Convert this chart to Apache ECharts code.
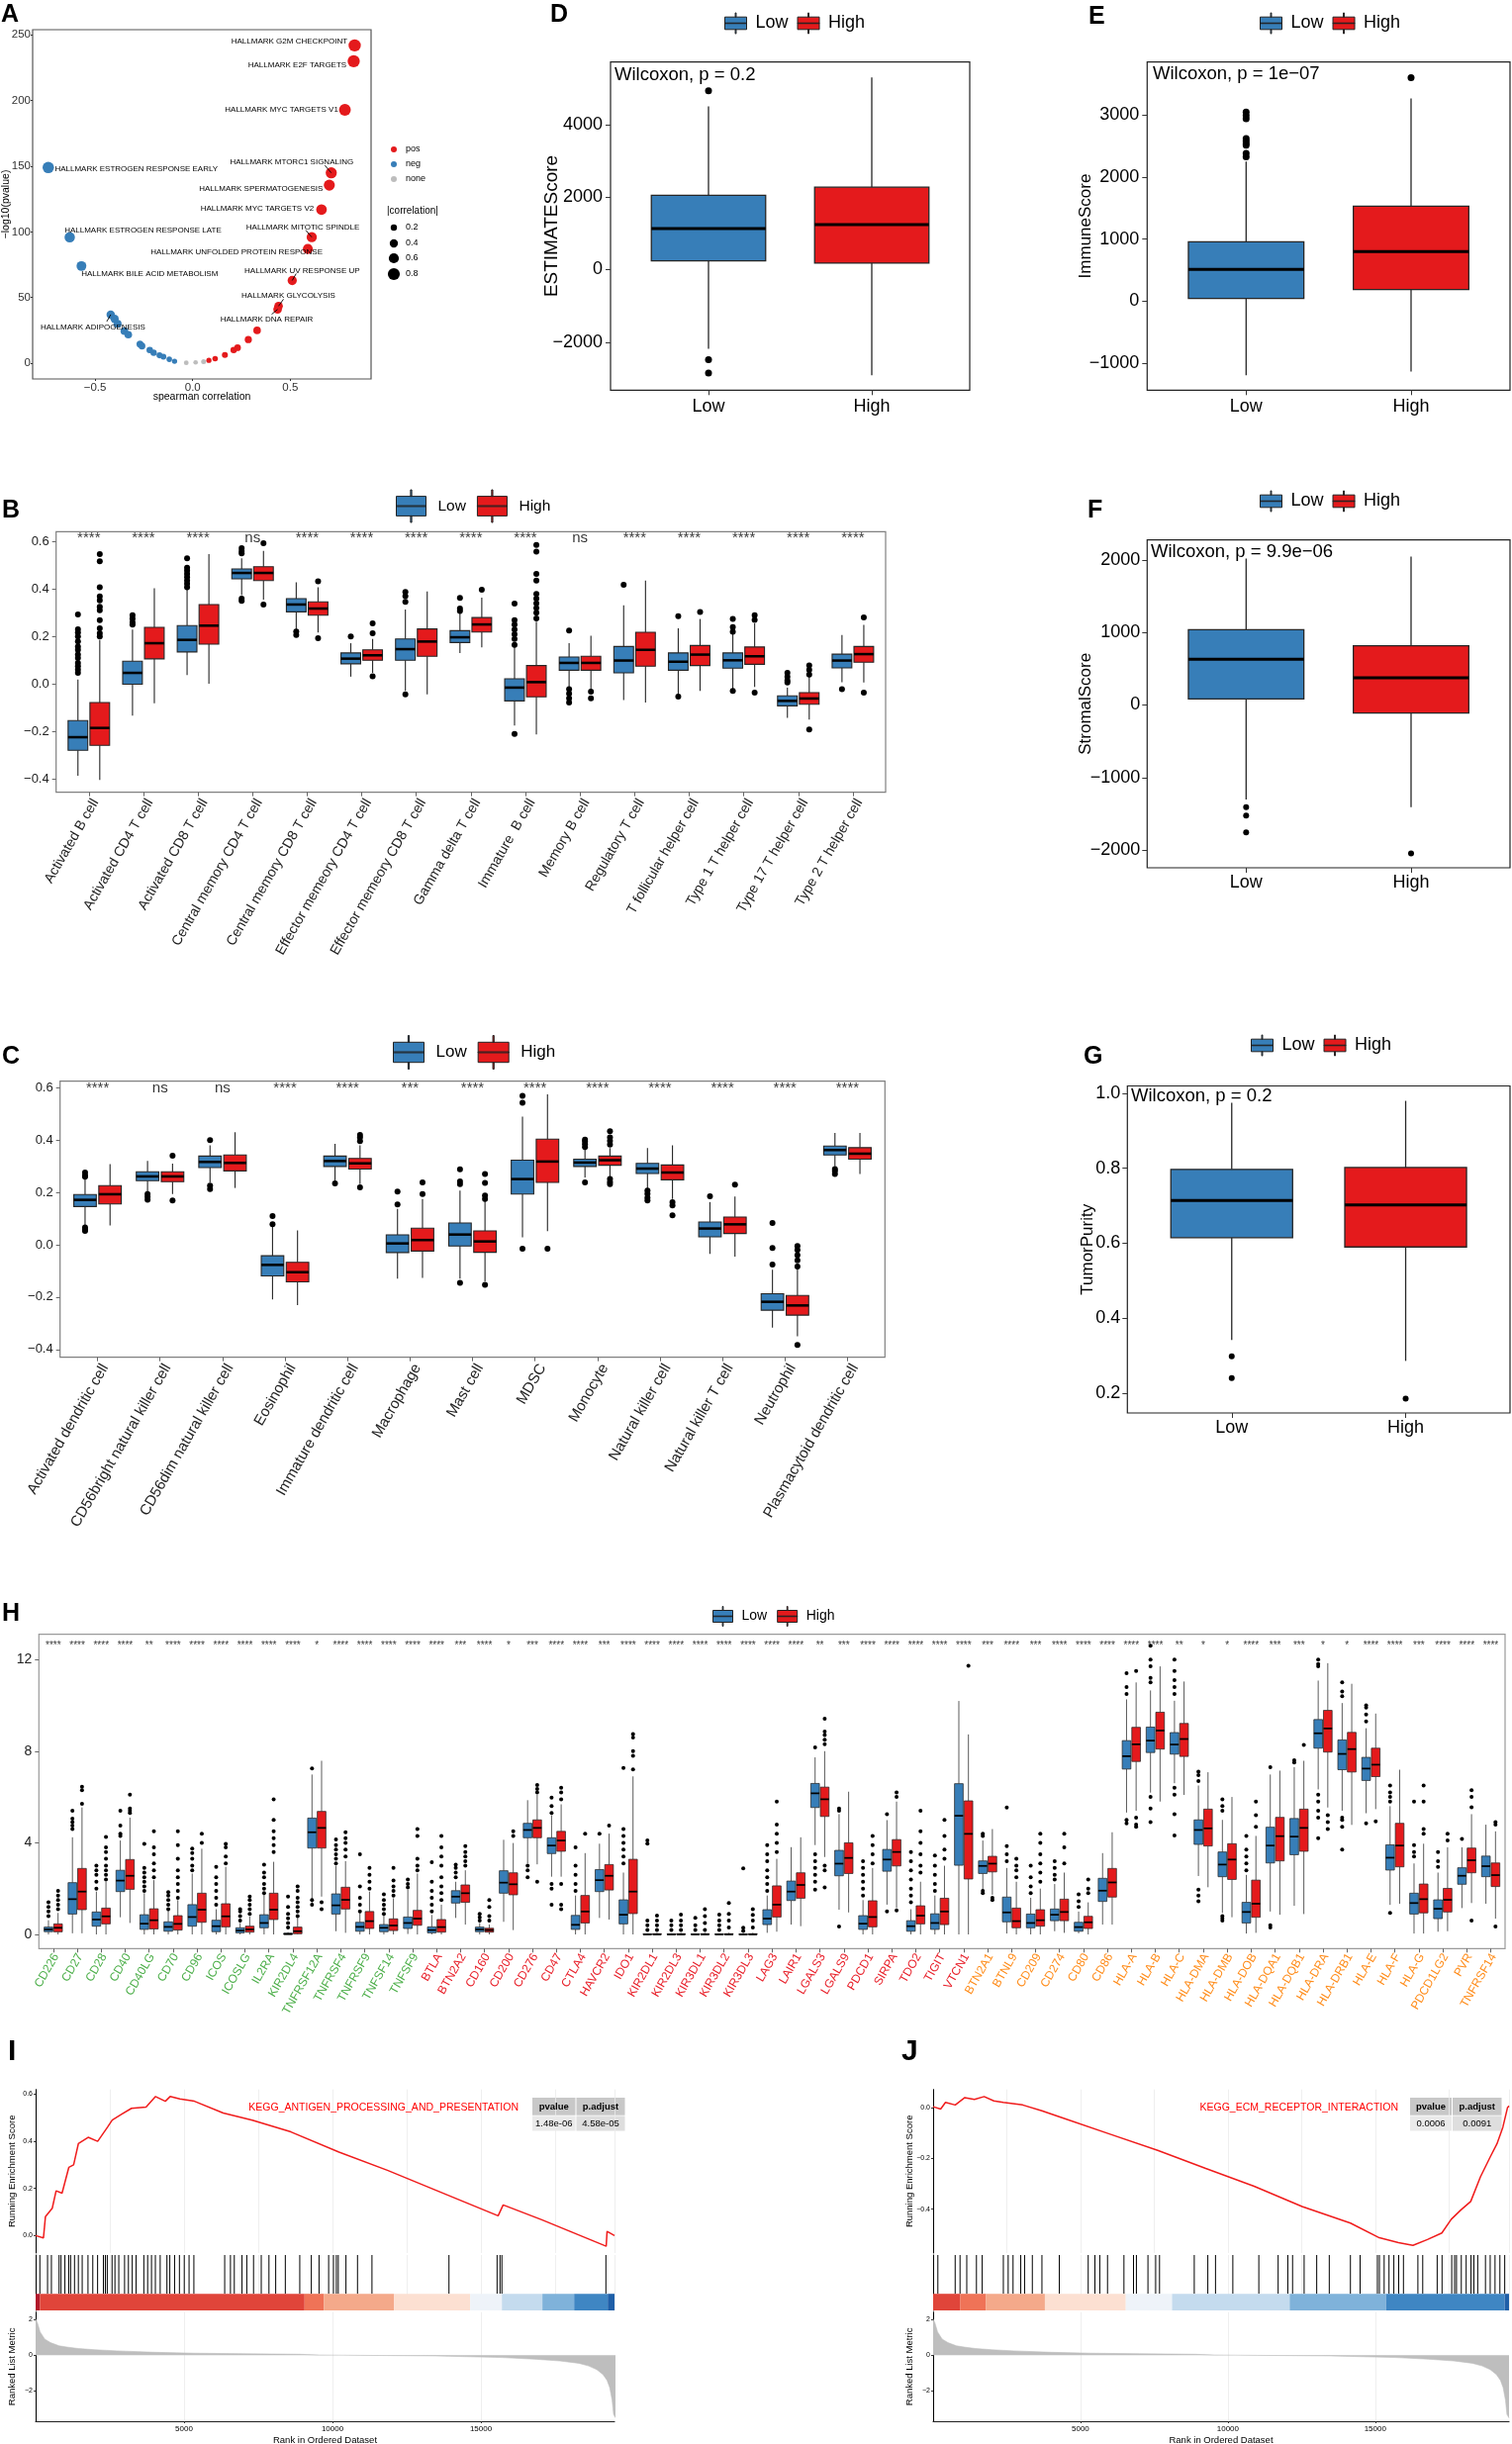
<!DOCTYPE html>
<html>
<head>
<meta charset="utf-8">
<script src="https://cdn.jsdelivr.net/npm/echarts@6/dist/echarts.min.js"></script>
<style>
  html, body { margin: 0; padding: 0; background: #fff; }
  #main { width: 1528px; height: 2470px; }
</style>
</head>
<body>
<div id="main"></div>
<script>
var BLUE = '#377EB8', RED = '#E41A1C', FONT = '"Liberation Sans", Arial, sans-serif';

// ---------- A: hallmark correlation volcano ----------
var aPos = [
  [0.83, 242, 'HALLMARK G2M CHECKPOINT'],
  [0.825, 230, 'HALLMARK E2F TARGETS'],
  [0.78, 193, 'HALLMARK MYC TARGETS V1'],
  [0.71, 145, 'HALLMARK MTORC1 SIGNALING'],
  [0.70, 135.6, 'HALLMARK SPERMATOGENESIS'],
  [0.66, 117, 'HALLMARK MYC TARGETS V2'],
  [0.61, 96, 'HALLMARK MITOTIC SPINDLE'],
  [0.59, 87, 'HALLMARK UNFOLDED PROTEIN RESPONSE'],
  [0.51, 63, 'HALLMARK UV RESPONSE UP'],
  [0.44, 43.5, 'HALLMARK GLYCOLYSIS'],
  [0.435, 41, 'HALLMARK DNA REPAIR'],
  [0.33, 25, ''], [0.285, 18, ''], [0.23, 11.8, ''], [0.21, 10, ''],
  [0.165, 6.3, ''], [0.115, 3.5, ''], [0.083, 2.2, '']
];
var aNeg = [
  [-0.74, 149, 'HALLMARK ESTROGEN RESPONSE EARLY'],
  [-0.63, 96, 'HALLMARK ESTROGEN RESPONSE LATE'],
  [-0.57, 74, 'HALLMARK BILE ACID METABOLISM'],
  [-0.42, 37, 'HALLMARK ADIPOGENESIS'],
  [-0.40, 33.8, ''], [-0.385, 30, ''], [-0.35, 24.5, ''], [-0.33, 21.7, ''],
  [-0.27, 14.5, ''], [-0.26, 13, ''], [-0.22, 10, ''], [-0.20, 8, ''],
  [-0.17, 6, ''], [-0.15, 5, ''], [-0.12, 3, ''], [-0.093, 1.5, '']
];
var aNone = [[-0.033, 0.3, ''], [0.015, 0.6, ''], [0.056, 1.2, '']];
var aSizeKeys = [0.2, 0.4, 0.6, 0.8];

// label placement for the named points (pixel shift of text centre from the point)
var aLabelShift = {
  'HALLMARK G2M CHECKPOINT': [-66, -4],
  'HALLMARK E2F TARGETS': [-57, 4],
  'HALLMARK MYC TARGETS V1': [-64, 0],
  'HALLMARK MTORC1 SIGNALING': [-40, -11],
  'HALLMARK SPERMATOGENESIS': [-69, 4],
  'HALLMARK MYC TARGETS V2': [-65, -1],
  'HALLMARK MITOTIC SPINDLE': [-9, -10],
  'HALLMARK UNFOLDED PROTEIN RESPONSE': [-72, 3],
  'HALLMARK UV RESPONSE UP': [10, -10],
  'HALLMARK GLYCOLYSIS': [10, -11],
  'HALLMARK DNA REPAIR': [-11, 10],
  'HALLMARK ESTROGEN RESPONSE EARLY': [89, 1],
  'HALLMARK ESTROGEN RESPONSE LATE': [74, -7],
  'HALLMARK BILE ACID METABOLISM': [69, 8],
  'HALLMARK ADIPOGENESIS': [-18, 13]
};
// short leader segments (pixel vector from the point towards its label)
var aLeader = {
  'HALLMARK MTORC1 SIGNALING': [-6.5, -7.5],
  'HALLMARK MITOTIC SPINDLE': [-6, -7],
  'HALLMARK UV RESPONSE UP': [4, -7],
  'HALLMARK GLYCOLYSIS': [5, -7],
  'HALLMARK DNA REPAIR': [-6, 5],
  'HALLMARK ADIPOGENESIS': [-4, 7]
};

// ---------- D/E/F/G: ESTIMATE scores (min, Q1, median, Q3, max) ----------
var groups = ['Low', 'High'];
var dLow = [-2183, 245, 1135, 2046, 4502], dHigh = [-2911, 180, 1244, 2273, 5294];
var dLowOut = [4928, -2483, -2848], dHighOut = [];
var eLow = [-1196, 42, 510, 956, 2248], eHigh = [-1137, 186, 797, 1530, 3268];
var eLowOut = [3045, 2990, 2938, 2620, 2580, 2540, 2513, 2380, 2327], eHighOut = [3603];
var fLow = [-1304, 85, 631, 1040, 2020], fHigh = [-1407, -111, 375, 818, 2046];
var fLowOut = [-1407, -1526, -1756], fHighOut = [-2046];
var gLow = [0.342, 0.615, 0.714, 0.797, 0.975], gHigh = [0.286, 0.59, 0.702, 0.802, 0.98];
var gLowOut = [0.298, 0.24], gHighOut = [0.185];

// ---------- B: immune cell ssGSEA (part 1) ----------
var bCells = ['Activated B cell', 'Activated CD4 T cell', 'Activated CD8 T cell', 'Central memory CD4 T cell',
  'Central memory CD8 T cell', 'Effector memeory CD4 T cell', 'Effector memeory CD8 T cell', 'Gamma delta T cell',
  'Immature  B cell', 'Memory B cell', 'Regulatory T cell', 'T follicular helper cell', 'Type 1 T helper cell',
  'Type 17 T helper cell', 'Type 2 T helper cell'];
var bSig = ['****', '****', '****', 'ns', '****', '****', '****', '****', '****', 'ns', '****', '****', '****', '****', '****'];
var bLow = [
  [-0.386, -0.279, -0.224, -0.154, 0.019], [-0.133, -0.001, 0.047, 0.096, 0.23], [0.0375, 0.135, 0.186, 0.246, 0.40],
  [0.374, 0.443, 0.468, 0.485, 0.53], [0.228, 0.304, 0.335, 0.36, 0.429], [0.031, 0.085, 0.107, 0.131, 0.172],
  [-0.029, 0.1, 0.147, 0.19, 0.314], [0.131, 0.175, 0.197, 0.225, 0.297], [-0.175, -0.071, -0.015, 0.022, 0.158],
  [-0.015, 0.058, 0.089, 0.114, 0.172], [-0.068, 0.047, 0.099, 0.158, 0.332], [-0.043, 0.058, 0.094, 0.131, 0.235],
  [-0.022, 0.067, 0.1, 0.131, 0.214], [-0.143, -0.092, -0.071, -0.05, -0.015], [0.008, 0.068, 0.099, 0.126, 0.207]
];
var bHigh = [
  [-0.404, -0.258, -0.185, -0.078, 0.186], [-0.081, 0.106, 0.172, 0.239, 0.404], [0.001, 0.168, 0.246, 0.335, 0.547],
  [0.356, 0.436, 0.468, 0.494, 0.561], [0.217, 0.29, 0.318, 0.346, 0.408], [0.047, 0.1, 0.121, 0.144, 0.19],
  [-0.043, 0.117, 0.179, 0.232, 0.39], [0.154, 0.219, 0.251, 0.28, 0.364], [-0.2125, -0.054, 0.008, 0.078, 0.2625],
  [-0.022, 0.058, 0.089, 0.117, 0.203], [-0.078, 0.075, 0.144, 0.218, 0.436], [-0.029, 0.078, 0.124, 0.1625, 0.274],
  [-0.0125, 0.083, 0.117, 0.156, 0.256], [-0.15, -0.085, -0.061, -0.036, 0.033], [0.006, 0.092, 0.126, 0.158, 0.249]
];
var bLowOut = [
  [0.293, 0.231, 0.217, 0.2, 0.179, 0.158, 0.144, 0.124, 0.11, 0.089, 0.075, 0.061, 0.047],
  [0.29, 0.275, 0.26, 0.25], [0.53, 0.49, 0.478, 0.464, 0.45, 0.436, 0.422, 0.408],
  [0.572, 0.56, 0.55, 0.36, 0.35], [0.221, 0.207], [0.2], [0.388, 0.37, 0.346, -0.043],
  [0.363, 0.318, 0.308], [0.339, 0.269, 0.25, 0.23, 0.21, 0.19, 0.165, -0.21],
  [0.225, -0.022, -0.04, -0.06, -0.078], [0.418], [0.286, -0.053], [0.274, 0.24, 0.22, -0.029],
  [0.047, 0.03, 0.015, 0.006], [-0.022]
];
var bHighOut = [
  [0.547, 0.517, 0.408, 0.369, 0.353, 0.325, 0.311, 0.269, 0.235, 0.214, 0.2], [], [],
  [0.593, 0.335], [0.433, 0.193], [0.256, 0.214, 0.033], [], [0.397],
  [0.586, 0.558, 0.464, 0.436, 0.38, 0.36, 0.34, 0.32, 0.3, 0.276], [-0.032, -0.06], [], [0.304],
  [0.29, 0.27, -0.036], [0.078, 0.06, 0.04, -0.192], [0.281, -0.036]
];

// ---------- C: immune cell ssGSEA (part 2) ----------
var cCells = ['Activated dendritic cell', 'CD56bright natural killer cell', 'CD56dim natural killer cell', 'Eosinophil',
  'Immature dendritic cell', 'Macrophage', 'Mast cell', 'MDSC', 'Monocyte', 'Natural killer cell',
  'Natural killer T cell', 'Neutrophil', 'Plasmacytoid dendritic cell'];
var cSig = ['****', 'ns', 'ns', '****', '****', '***', '****', '****', '****', '****', '****', '****', '****'];
var cLow = [
  [0.074, 0.146, 0.1715, 0.192, 0.251], [0.204, 0.245, 0.261, 0.279, 0.32], [0.238, 0.295, 0.3165, 0.339, 0.38],
  [-0.209, -0.119, -0.077, -0.042, 0.068], [0.245, 0.299, 0.32, 0.339, 0.386], [-0.13, -0.03, 0.005, 0.038, 0.137],
  [-0.13, -0.005, 0.039, 0.083, 0.207], [0.028, 0.194, 0.251, 0.323, 0.49], [0.257, 0.299, 0.314, 0.327, 0.37],
  [0.213, 0.272, 0.291, 0.311, 0.37], [-0.035, 0.03, 0.062, 0.087, 0.163], [-0.317, -0.25, -0.218, -0.187, -0.096],
  [0.3, 0.343, 0.362, 0.377, 0.4275]
];
var cHigh = [
  [0.074, 0.156, 0.193, 0.226, 0.308], [0.194, 0.241, 0.261, 0.279, 0.31], [0.217, 0.282, 0.3127, 0.343, 0.43],
  [-0.231, -0.142, -0.105, -0.067, 0.055], [0.232, 0.289, 0.311, 0.33, 0.38], [-0.127, -0.024, 0.018, 0.063, 0.175],
  [-0.14, -0.029, 0.0126, 0.053, 0.17], [0.052, 0.238, 0.318, 0.4035, 0.575], [0.26, 0.304, 0.323, 0.339, 0.37],
  [0.175, 0.248, 0.276, 0.305, 0.38], [-0.045, 0.043, 0.078, 0.106, 0.184], [-0.35, -0.269, -0.232, -0.194, -0.09],
  [0.27, 0.327, 0.348, 0.371, 0.4275]
];
var cLowOut = [
  [0.276, 0.265, 0.26, 0.066, 0.058, 0.053], [0.194, 0.183, 0.172], [0.4, 0.226, 0.213], [0.11, 0.078],
  [0.2345], [0.203, 0.154], [0.288, 0.242, 0.232, -0.146], [0.569, 0.543, -0.015],
  [0.402, 0.395, 0.385, 0.373, 0.238], [0.207, 0.195, 0.18, 0.169], [0.185], [0.083, -0.0126, -0.076],
  [0.289, 0.282, 0.27]
];
var cHighOut = [
  [], [0.34, 0.169], [], [], [0.42, 0.41, 0.396, 0.219], [0.238, 0.194], [0.27, 0.236, 0.188, 0.175, -0.153],
  [-0.015], [0.434, 0.41, 0.397, 0.383, 0.251, 0.24, 0.232], [0.163, 0.15, 0.112], [0.23],
  [-0.005, -0.02, -0.04, -0.06, -0.083, -0.383], []
];

// ---------- H: immune checkpoint genes ----------
var hGreen = ['CD226', 'CD27', 'CD28', 'CD40', 'CD40LG', 'CD70', 'CD96', 'ICOS', 'ICOSLG', 'IL2RA', 'KIR2DL4',
  'TNFRSF12A', 'TNFRSF4', 'TNFRSF9', 'TNFSF14', 'TNFSF9'];
var hRed = ['BTLA', 'BTN2A2', 'CD160', 'CD200', 'CD276', 'CD47', 'CTLA4', 'HAVCR2', 'IDO1', 'KIR2DL1', 'KIR2DL3',
  'KIR3DL1', 'KIR3DL2', 'KIR3DL3', 'LAG3', 'LAIR1', 'LGALS3', 'LGALS9', 'PDCD1', 'SIRPA', 'TDO2', 'TIGIT', 'VTCN1'];
var hOrange = ['BTN2A1', 'BTNL9', 'CD209', 'CD274', 'CD80', 'CD86', 'HLA-A', 'HLA-B', 'HLA-C', 'HLA-DMA', 'HLA-DMB',
  'HLA-DOB', 'HLA-DQA1', 'HLA-DQB1', 'HLA-DRA', 'HLA-DRB1', 'HLA-E', 'HLA-F', 'HLA-G', 'PDCD1LG2', 'PVR', 'TNFRSF14'];
var hGenes = hGreen.concat(hRed, hOrange);
var hSig = ['****', '****', '****', '****', '**', '****', '****', '****', '****', '****', '****', '*', '****', '****', '****', '****',
  '****', '***', '****', '*', '***', '****', '****', '***', '****', '****', '****', '****', '****', '****', '****', '****', '**', '***',
  '****', '****', '****', '****', '****',
  '***', '****', '***', '****', '****', '****', '****', '****', '**', '*', '*', '****', '***', '***', '*', '*', '****', '****', '***',
  '****', '****', '****'];
var hLow = [
  [0, 0.12, 0.22, 0.32, 0.62], [0.05, 0.89, 1.54, 2.26, 4.24], [0, 0.36, 0.65, 0.98, 1.87], [0.75, 1.87, 2.35, 2.8, 4.1],
  [0, 0.22, 0.47, 0.86, 1.8], [0, 0.14, 0.33, 0.55, 1.08], [0, 0.36, 0.76, 1.3, 2.66], [0, 0.12, 0.36, 0.62, 1.1],
  [0, 0.07, 0.17, 0.29, 0.5], [0, 0.29, 0.5, 0.86, 1.73], [0, 0, 0.02, 0.05, 0.1], [1.37, 3.77, 4.46, 5.08, 6.98],
  [0.14, 0.89, 1.27, 1.77, 3.0], [0, 0.14, 0.33, 0.53, 0.94], [0, 0.12, 0.29, 0.43, 0.86], [0.02, 0.26, 0.5, 0.76, 1.95],
  [0, 0.07, 0.19, 0.33, 0.85], [0.72, 1.37, 1.65, 1.91, 2.3], [0, 0.12, 0.22, 0.32, 0.5], [0.55, 1.8, 2.26, 2.78, 4.13],
  [3.1, 4.22, 4.56, 4.85, 5.86], [2.52, 3.53, 3.88, 4.22, 5.2], [0, 0.22, 0.42, 0.83, 1.7], [0.72, 1.87, 2.37, 2.83, 3.96],
  [0, 0.46, 0.86, 1.51, 2.7], [0, 0, 0, 0.02, 0.05], [0, 0, 0, 0.02, 0.05], [0, 0, 0, 0.02, 0.05],
  [0, 0, 0, 0.02, 0.05], [0, 0, 0, 0.01, 0.03], [0.07, 0.43, 0.69, 1.08, 1.7], [0.43, 1.48, 1.87, 2.33, 3.81],
  [3.9, 5.54, 6.16, 6.59, 7.73], [1.08, 2.56, 3.09, 3.67, 5.25], [0, 0.22, 0.47, 0.82, 1.5], [1.3, 2.76, 3.27, 3.71, 4.99],
  [0, 0.14, 0.36, 0.6, 1.1], [0, 0.22, 0.5, 0.9, 1.7], [0, 3.02, 5.18, 6.58, 10.19],
  [1.94, 2.66, 2.99, 3.21, 4.1], [0.04, 0.55, 0.96, 1.63, 2.9], [0, 0.29, 0.5, 0.89, 1.6], [0.14, 0.6, 0.86, 1.11, 2.2],
  [0.05, 0.14, 0.32, 0.53, 1.0], [0.43, 1.44, 1.91, 2.45, 3.55], [5.32, 7.22, 7.78, 8.46, 10.26], [6.19, 7.94, 8.46, 9.05, 10.65],
  [6.6, 7.87, 8.29, 8.81, 10.2], [2.55, 3.93, 4.56, 5.0, 6.5], [0.94, 2.52, 3.05, 3.6, 5.0], [0.04, 0.5, 0.98, 1.4, 2.6],
  [1.0, 3.12, 3.88, 4.68, 6.98], [1.25, 3.48, 4.27, 5.06, 7.3], [6.33, 8.13, 8.78, 9.38, 11.08], [5.4, 7.19, 7.88, 8.49, 10.1],
  [5.29, 6.72, 7.24, 7.73, 9.0], [1.29, 2.81, 3.35, 3.91, 5.6], [0.04, 0.89, 1.37, 1.8, 3.1], [0.12, 0.69, 1.12, 1.51, 2.7],
  [1.15, 2.19, 2.56, 2.91, 3.8], [1.34, 2.52, 2.98, 3.42, 4.79]
];
var hHigh = [
  [0, 0.115, 0.29, 0.46, 0.94], [0.05, 1.08, 1.87, 2.88, 5.54], [0, 0.46, 0.79, 1.15, 2.3], [0.5, 1.97, 2.56, 3.27, 5.1],
  [0, 0.24, 0.62, 1.12, 2.37], [0, 0.19, 0.46, 0.82, 1.5], [0, 0.53, 1.08, 1.8, 3.74], [0, 0.33, 0.79, 1.34, 2.95],
  [0, 0.1, 0.22, 0.36, 0.79], [0, 0.65, 1.08, 1.8, 3.17], [0, 0.03, 0.14, 0.32, 0.72], [1.65, 3.77, 4.65, 5.37, 7.58],
  [0.07, 1.11, 1.51, 2.06, 3.2], [0, 0.26, 0.58, 1.0, 1.87], [0, 0.17, 0.39, 0.68, 1.58], [0, 0.4, 0.69, 1.05, 2.66],
  [0, 0.1, 0.32, 0.65, 1.3], [0.43, 1.4, 1.8, 2.16, 2.8], [0, 0.1, 0.19, 0.27, 0.43], [0.19, 1.73, 2.19, 2.69, 3.99],
  [3.06, 4.22, 4.65, 5.0, 6.1], [2.52, 3.63, 4.1, 4.5, 5.68], [0, 0.5, 1.0, 1.7, 3.55], [0.65, 1.94, 2.56, 3.05, 4.4],
  [0, 0.91, 1.87, 3.28, 6.9], [0, 0, 0, 0.03, 0.07], [0, 0, 0, 0.03, 0.07], [0, 0, 0, 0.03, 0.07],
  [0, 0, 0, 0.03, 0.07], [0, 0, 0, 0.03, 0.07], [0.12, 0.76, 1.3, 2.12, 3.3], [0.36, 1.58, 2.16, 2.69, 4.24],
  [3.38, 5.15, 5.9, 6.43, 8.0], [0.96, 2.66, 3.34, 4.0, 6.23], [0, 0.33, 0.76, 1.47, 2.9], [1.15, 2.99, 3.6, 4.14, 5.8],
  [0, 0.46, 0.82, 1.25, 2.3], [0, 0.43, 1.0, 1.58, 3.0], [0, 2.42, 4.39, 5.83, 8.73],
  [1.73, 2.73, 3.09, 3.41, 4.6], [0, 0.29, 0.58, 1.15, 2.3], [0, 0.36, 0.62, 1.08, 2.0], [0.07, 0.6, 0.98, 1.54, 2.7],
  [0, 0.26, 0.53, 0.79, 1.4], [0.43, 1.63, 2.27, 2.88, 4.46], [5.4, 7.55, 8.3, 9.04, 11.0], [5.8, 8.09, 8.9, 9.7, 11.7],
  [6.09, 7.77, 8.53, 9.21, 11.04], [2.06, 3.86, 4.63, 5.47, 7.08], [0.75, 2.4, 3.27, 3.96, 6.0], [0.07, 0.75, 1.34, 2.37, 4.3],
  [0.86, 3.21, 4.29, 5.11, 7.15], [0.89, 3.63, 4.65, 5.47, 7.58], [5.54, 7.96, 8.99, 9.78, 11.84], [4.78, 7.09, 8.09, 8.82, 10.94],
  [5.47, 6.89, 7.41, 8.13, 9.64], [1.34, 2.95, 3.88, 4.85, 7.19], [0.04, 0.94, 1.54, 2.2, 3.96], [0.14, 0.98, 1.51, 2.01, 3.8],
  [1.37, 2.69, 3.24, 3.77, 5.25], [0.69, 2.09, 2.59, 3.12, 4.5]
];
var hLowOut = [
  [0.8, 1.0, 1.2, 1.4], [4.6, 4.75, 4.9, 5.05, 5.4], [2.0, 2.3, 2.6, 2.8, 3.0], [4.3, 4.4, 4.75, 5.4],
  [1.9, 2.1, 2.3, 2.5, 2.7, 2.9, 3.95], [1.1, 1.3, 1.5, 1.7, 1.85], [2.8, 3.0, 3.3, 3.55, 3.75], [1.3, 1.6, 1.9, 2.2, 2.5, 2.95],
  [0.6, 0.8, 1.0, 1.1], [1.8, 2.0, 2.2, 2.5, 2.7, 3.05], [0.3, 0.5, 0.7, 0.9, 1.2, 1.65], [7.25, 1.3, 1.5],
  [3.1, 3.3, 3.5, 3.7, 3.9, 4.15], [1.0, 1.3, 1.6, 2.1, 3.5], [0.9, 1.1, 1.3, 1.5, 1.75], [2.05, 2.2, 2.4],
  [1.0, 1.3, 1.6, 1.9, 2.3, 3.15], [2.5, 2.7, 2.9, 3.05], [0.6, 0.75, 0.9], [],
  [3.0, 2.8, 2.5], [5.3, 5.6, 5.97, 2.0, 2.2, 1.3], [1.9, 2.2, 2.6, 3.0, 3.8], [4.39],
  [3.1, 3.4, 3.7, 4.0, 4.3, 4.6, 7.27], [0.2, 0.4, 0.6, 3.96, 4.1], [0.2, 0.4, 0.6], [0.2, 0.4, 0.72],
  [0.2, 0.4, 0.6, 0.86], [0.15, 0.29, 2.88], [1.9, 2.2, 2.5, 2.8, 3.2, 3.5, 3.9], [],
  [8.16, 3.5, 3.2, 2.9, 2.6, 2.3, 1.95], [5.4, 5.5, 0.35], [1.7, 2.0, 2.3, 2.6, 2.9, 3.2], [5.25, 1.0],
  [1.4, 1.7, 2.0, 2.4, 2.8, 3.2, 3.6], [1.9, 2.2, 2.6, 3.0, 3.45], [],
  [4.3, 4.4, 1.8, 1.9], [3.2, 3.5, 3.85, 5.54], [1.8, 2.1, 2.5, 3.0], [2.4, 2.6, 2.9, 3.2],
  [1.2, 1.45, 1.75], [], [10.5, 10.8, 11.4, 5.0, 4.85], [11.0, 11.2, 11.7, 12.0, 12.6, 6.0, 5.5, 4.9],
  [10.5, 10.8, 11.1, 11.5, 12.0, 6.4, 6.1, 5.25, 4.32], [6.7, 6.95, 7.1, 1.95, 1.7, 1.45], [5.4, 5.6, 5.9, 0.8, 0.7, 0.6], [2.8, 3.1, 3.4, 3.7, 4.3],
  [7.3, 0.4, 0.3], [7.5, 7.6], [11.7, 11.8, 12.0, 6.1, 5.8, 5.4, 5.1, 4.2], [10.4, 10.6, 11.0, 5.1, 5.0, 4.7, 3.7],
  [9.3, 9.6, 9.9, 10.0, 4.85], [5.8, 6.0, 6.2, 6.5, 0.94], [3.4, 3.6, 3.9, 5.8], [2.95, 3.2, 3.6],
  [4.17], []
];
var hHighOut = [
  [1.1, 1.3, 1.5, 1.7, 1.9], [5.7, 6.3, 6.45], [2.4, 2.6, 2.8, 3.0, 3.3, 3.6, 3.8, 4.25], [5.3, 5.4, 5.5, 6.1],
  [2.5, 2.8, 3.1, 3.5, 3.8, 4.5], [1.6, 1.9, 2.2, 2.5, 2.8, 3.3, 3.9, 4.5], [4.0, 4.4], [3.1, 3.4, 3.8, 3.95],
  [0.9, 1.1, 1.3, 1.5, 1.65], [3.6, 3.9, 4.2, 4.5, 5.0, 5.9], [0.8, 1.0, 1.2, 1.4, 1.6, 1.9, 2.1], [1.1, 1.4],
  [3.4, 3.7, 4.0, 4.2, 4.46], [2.0, 2.3, 2.6, 2.9], [1.7, 1.9, 2.1, 2.35, 2.9], [2.8, 3.0, 3.3, 4.3, 4.6],
  [1.5, 1.8, 2.1, 2.5, 3.0, 3.4, 3.8, 4.3], [3.0, 3.2, 3.4, 3.6, 3.85], [0.6, 0.8, 1.2, 1.5], [4.3, 4.5],
  [6.2, 6.35, 6.52, 2.3], [5.9, 6.2, 6.4, 2.2, 1.3, 1.1], [4.4], [4.75],
  [7.2, 7.8, 8.0, 8.6, 8.75], [0.2, 0.4, 0.6, 0.82], [0.2, 0.4, 0.6, 0.86], [0.2, 0.5, 0.8, 1.1],
  [0.3, 0.6, 0.9, 1.37], [0.3, 0.6, 0.85, 1.1], [3.6, 4.0, 4.4, 4.8, 5.8], [],
  [8.3, 8.5, 8.7, 8.85, 9.42, 3.0, 2.8, 2.05], [], [3.1, 3.5, 3.9, 4.3], [6.0, 6.2, 1.05],
  [2.7, 3.0, 3.5, 4.0, 4.5, 5.4], [3.3, 3.7, 4.3, 5.0], [11.73],
  [1.6, 1.5], [2.5, 2.8, 3.0, 3.3], [2.3, 2.7, 3.1, 3.5, 4.0, 4.4], [3.1, 3.8, 4.4],
  [1.8, 2.0, 2.4], [], [11.5, 5.1, 4.8, 4.7], [],
  [], [], [], [4.7, 5.2, 5.8],
  [], [8.27], [5.2, 4.9, 4.6], [],
  [4.94], [], [4.4, 4.6, 5.8, 6.5], [4.1, 4.4],
  [5.55, 6.0, 6.3, 0.6], [4.8, 4.9, 0.35]
];

// ---------- I/J: GSEA ----------
var iCurve = [[0, 0], [264, -0.01], [330, 0.08], [560, 0.116], [690, 0.19], [890, 0.18], [1120, 0.29], [1280, 0.3],
  [1440, 0.39], [1770, 0.417], [2090, 0.4], [2420, 0.46], [2580, 0.49], [2900, 0.515], [3230, 0.54], [3720, 0.545],
  [4040, 0.59], [4370, 0.57], [4530, 0.59], [4860, 0.58], [5350, 0.57], [6320, 0.52], [7300, 0.49], [8600, 0.44],
  [10220, 0.354], [11850, 0.277], [13470, 0.193], [15580, 0.084], [15750, 0.13], [17050, 0.067], [19220, -0.045],
  [19250, 0.018], [19500, 0.0]];
var iHits = [143, 402, 532, 791, 856, 986, 1115, 1180, 1310, 1440, 1569, 1764, 1926, 2088, 2283, 2348, 2412, 2575, 2672,
  2802, 2996, 3126, 3255, 3385, 3645, 3774, 3904, 4034, 4196, 4423, 4520, 4682, 4844, 5007, 5169, 5331, 6369, 6563,
  6693, 6952, 7114, 7341, 7601, 7860, 8087, 8411, 8898, 9287, 9547, 9871, 10033, 10130, 10195, 10454, 10843, 11330,
  13924, 15545, 15643, 15707, 19210];
var iBins = [[0, 143, 5], [143, 9060, 4], [9060, 9708, 3], [9708, 12077, 2], [12077, 14639, 1], [14639, 15707, 0],
  [15707, 17071, -1], [17071, 18140, -2], [18140, 19273, -3], [19273, 19500, -4]];
var jCurve = [[0, 0.003], [255, -0.006], [420, 0.02], [750, 0.01], [1075, 0.039], [1400, 0.032], [1730, 0.043],
  [2060, 0.026], [2380, 0.02], [3040, 0.01], [3690, -0.013], [4350, -0.039], [5980, -0.104], [7620, -0.169],
  [9250, -0.24], [10890, -0.31], [12520, -0.39], [14160, -0.455], [15140, -0.513], [15790, -0.532], [16280, -0.543],
  [16770, -0.52], [17260, -0.494], [17580, -0.44], [17910, -0.403], [18240, -0.37], [18570, -0.273], [18900, -0.195],
  [19130, -0.143], [19330, -0.078], [19490, 0.0], [19540, 0.006]];
var jHits = [161, 748, 913, 1141, 1470, 1665, 2383, 2547, 2712, 2973, 3104, 3366, 3692, 4282, 5262, 5490, 5655, 5917,
  6474, 6799, 6897, 7289, 7551, 7682, 8860, 9320, 9581, 10169, 11051, 11706, 12035, 12196, 12588, 13015, 13441, 14159,
  14488, 15075, 15142, 15303, 15468, 15632, 15797, 15958, 16448, 16612, 17102, 17267, 17596, 17693, 17757, 17921,
  18086, 18250, 18347, 18478, 18740, 18901, 19065, 19230, 19394];
var jBins = [[0, 913, 4], [913, 1795, 3], [1795, 3792, 2], [3792, 6537, 1], [6537, 8107, 0], [8107, 12097, -1],
  [12097, 15369, -2], [15369, 19392, -3], [19392, 19540, -4]];
var rankMetric = [[0, 2.0], [60, 1.8], [150, 1.3], [305, 0.9], [500, 0.7], [791, 0.52], [1100, 0.44], [1440, 0.37],
  [2000, 0.3], [2737, 0.24], [4000, 0.16], [5331, 0.11], [7000, 0.08], [8898, 0.05], [9547, 0.01], [11000, -0.01],
  [13470, -0.04], [15707, -0.13], [16800, -0.22], [17660, -0.32], [18300, -0.45], [18630, -0.6], [18900, -0.8],
  [19110, -1.07], [19250, -1.4], [19340, -1.8], [19420, -2.5], [19470, -3.3], [19540, -3.5]];
var binColors = {'5': '#B2182B', '4': '#E0453A', '3': '#EF7357', '2': '#F4A98A', '1': '#FCE0D2', '0': '#EEF3F9',
  '-1': '#C4DBEE', '-2': '#7FB2DA', '-3': '#3F86C3', '-4': '#1F5FA8'};

// ================= layout & helpers =================
var chart = echarts.init(document.getElementById('main'));

function range(n, shift) { var r = []; for (var i = 1; i <= n; i++) r.push(i + (shift || 0)); return r; }
function num(d) { return function (v) { v = +v; return (v < 0 ? '\u2212' : '') + Math.abs(v).toFixed(d); }; }
function nameOf(list) { return function (v) { return list[Math.round(+v) - 1]; }; }

var gridSpec = [
  [33, 30, 342, 353, '#555'],          // 0 A
  [617, 62.7, 363, 331.6, '#222'],     // 1 D
  [1159.3, 62.7, 366.7, 331.6, '#222'],// 2 E
  [56.7, 537.3, 838.3, 263.4, '#808080'], // 3 B
  [1159.3, 545.6, 366.7, 331.4, '#222'],  // 4 F
  [60.7, 1092.7, 833.6, 279, '#808080'],  // 5 C
  [1139.3, 1097.5, 386.7, 330.5, '#222'], // 6 G
  [39.3, 1651.7, 1481.7, 317.6, '#9a9a9a'], // 7 H
  [36, 2111.7, 585, 165.3, null], [36, 2279, 585, 56, null], [36, 2336.7, 585, 110.3, null],   // 8-10 I
  [943, 2111.7, 582, 165.3, null], [943, 2279, 582, 56, null], [943, 2336.7, 582, 110.3, null] // 11-13 J
];
var grids = gridSpec.map(function (g) {
  return {left: g[0], top: g[1], width: g[2], height: g[3], show: !!g[4], borderColor: g[4] || '#000',
    borderWidth: 1.2, backgroundColor: 'transparent', outerBoundsMode: 'none', containLabel: false};
});

function axis(gi, min, max, o) {
  o = o || {};
  var a = {
    type: 'value', gridIndex: gi, min: min, max: max,
    name: o.name || '', nameLocation: 'middle', nameGap: o.nameGap || 20, nameMoveOverlap: false,
    nameTextStyle: {fontSize: o.nameSize || 12, color: '#000', fontFamily: FONT},
    axisLine: {show: !!o.line, onZero: false, lineStyle: {color: o.lineColor || '#000', width: o.lineWidth || 1}},
    axisTick: {show: !!o.ticks, length: o.tickLen || 4, lineStyle: {color: o.tickColor || '#333', width: 1}},
    axisLabel: {show: !!o.ticks, formatter: o.fmt, fontSize: o.size || 12, color: o.color || '#000',
      rotate: o.rotate || 0, margin: o.margin == null ? 6 : o.margin, fontFamily: FONT, padding: o.pad || 0},
    splitLine: {show: !!o.split, lineStyle: {color: '#EBEBEB', width: 0.8}}
  };
  if (o.ticks) { a.axisTick.customValues = o.ticks; a.axisLabel.customValues = o.labelAt || o.ticks; }
  if (o.interval) a.interval = o.interval;
  return a;
}

function boxSeries(name, gi, boxes, shift, width, color, lw) {
  return {
    type: 'custom', name: name, xAxisIndex: gi, yAxisIndex: gi, silent: true,
    itemStyle: {color: color},
    encode: {x: 0, y: [1, 2, 3, 4, 5]},
    data: boxes.map(function (b, i) { return [i + 1 + shift].concat(b); }),
    renderItem: function (params, api) {
      var x = api.value(0);
      var p = [1, 2, 3, 4, 5].map(function (k) { return api.coord([x, api.value(k)]); });
      var half = api.size([width, 0])[0] / 2, cx = p[0][0];
      var ln = {stroke: '#262626', lineWidth: lw};
      return {type: 'group', children: [
        {type: 'line', shape: {x1: cx, y1: p[0][1], x2: cx, y2: p[1][1]}, style: ln},
        {type: 'line', shape: {x1: cx, y1: p[3][1], x2: cx, y2: p[4][1]}, style: ln},
        {type: 'rect', shape: {x: cx - half, y: p[3][1], width: 2 * half, height: p[1][1] - p[3][1]},
          style: {fill: color, stroke: '#262626', lineWidth: lw}},
        {type: 'line', shape: {x1: cx - half, y1: p[2][1], x2: cx + half, y2: p[2][1]},
          style: {stroke: '#000', lineWidth: lw * 2.3}}
      ]};
    }
  };
}
function outlierSeries(gi, outs, shift, size) {
  var d = [];
  outs.forEach(function (list, i) { list.forEach(function (v) { d.push([i + 1 + shift, v]); }); });
  return {type: 'scatter', xAxisIndex: gi, yAxisIndex: gi, data: d, symbolSize: size, silent: true,
    itemStyle: {color: '#000', opacity: 1}, z: 3};
}
function sigSeries(gi, sigs, y, fs) {
  return {type: 'scatter', xAxisIndex: gi, yAxisIndex: gi, silent: true, symbolSize: 0,
    data: sigs.map(function (s, i) { return [i + 1, y, s]; }),
    label: {show: true, position: 'inside', formatter: function (p) { return p.data[2]; },
      fontSize: fs, color: '#000', fontFamily: FONT}};
}
function aItems(list) {
  return list.map(function (p) {
    var it = {value: [p[0], p[1]], symbolSize: 4.5 + 9.5 * Math.abs(p[0])};
    if (p[2]) it.label = {show: true, formatter: p[2], offset: aLabelShift[p[2]]};
    return it;
  });
}
function boxLegend(left, cy, iw, ih, fs, gap, pad) {
  var icon = 'path://M0,6H20V24H0Z M0,14.6H20V15.4H0Z M9.6,0H10.4V6H9.6Z M9.6,24H10.4V30H9.6Z';
  return {data: groups, left: left, top: cy - Math.max(ih, fs) / 2, orient: 'horizontal', padding: 0,
    icon: icon, itemWidth: iw, itemHeight: ih, itemGap: gap, selectedMode: false, symbolKeepAspect: false,
    itemStyle: {borderColor: '#222', borderWidth: 1},
    textStyle: {fontSize: fs, color: '#000', fontFamily: FONT, padding: [0, 0, 0, pad]}};
}
function hitSeries(gi, hits) {
  return {type: 'custom', xAxisIndex: gi, yAxisIndex: gi, silent: true,
    data: hits.map(function (r) { return [r, 1]; }),
    renderItem: function (params, api) {
      var a = api.coord([api.value(0), 1]), b = api.coord([api.value(0), 0.3]);
      return {type: 'line', shape: {x1: a[0], y1: a[1], x2: b[0], y2: b[1]}, style: {stroke: '#000', lineWidth: 1}};
    }};
}
function binSeries(gi, bins) {
  return {type: 'custom', xAxisIndex: gi, yAxisIndex: gi, silent: true,
    data: bins, encode: {x: [0, 1]},
    renderItem: function (params, api) {
      var a = api.coord([api.value(0), 0.3]), b = api.coord([api.value(1), 0]);
      return {type: 'rect', shape: {x: a[0], y: a[1], width: b[0] - a[0], height: b[1] - a[1]},
        style: {fill: binColors[String(api.value(2))]}};
    }};
}

// ================= axes =================
var hColor = function (v) { var i = Math.round(+v) - 1; return i < hGreen.length ? '#4DAF4A' : (i < hGreen.length + hRed.length ? '#E8202A' : '#FF8C1A'); };
var xAxes = [
  axis(0, -0.82, 0.914, {ticks: [-0.5, 0, 0.5], fmt: num(1), size: 11.5, color: '#333', margin: 3, tickLen: 2,
    name: 'spearman correlation', nameSize: 10.5, nameGap: 13}),
  axis(1, 0.4, 2.6, {ticks: [1, 2], fmt: nameOf(groups), size: 18, margin: 8, tickLen: 5}),
  axis(2, 0.4, 2.6, {ticks: [1, 2], fmt: nameOf(groups), size: 18, margin: 8, tickLen: 5}),
  axis(3, 0.4, 15.6, {ticks: range(15), labelAt: range(15, 0.12), fmt: nameOf(bCells), size: 14, rotate: 60, margin: 8,
    pad: [17, 0, 0, 0], color: '#222', tickColor: '#666'}),
  axis(4, 0.4, 2.6, {ticks: [1, 2], fmt: nameOf(groups), size: 18, margin: 6, tickLen: 5}),
  axis(5, 0.4, 13.6, {ticks: range(13), labelAt: range(13, 0.12), fmt: nameOf(cCells), size: 15, rotate: 60, margin: 8,
    pad: [17, 0, 0, 0], color: '#222', tickColor: '#666'}),
  axis(6, 0.4, 2.6, {ticks: [1, 2], fmt: nameOf(groups), size: 18, margin: 6, tickLen: 5}),
  axis(7, 0.4, 61.6, {ticks: range(61), labelAt: range(61, 0.12), fmt: nameOf(hGenes), size: 12, rotate: 60, margin: 6,
    pad: [12, 0, 0, 0], color: hColor, tickColor: '#666'}),
  axis(8, 0, 19500, {split: true, interval: 2500}),
  axis(9, 0, 19500, {split: true, interval: 2500}),
  axis(10, 0, 19500, {split: true, interval: 2500, ticks: [5000, 10000, 15000], fmt: num(0), size: 8, margin: 4,
    tickLen: 2, line: true, lineWidth: 1.2, lineColor: '#222', name: 'Rank in Ordered Dataset', nameSize: 9.5, nameGap: 14}),
  axis(11, 0, 19540, {split: true, interval: 2500}),
  axis(12, 0, 19540, {split: true, interval: 2500}),
  axis(13, 0, 19540, {split: true, interval: 2500, ticks: [5000, 10000, 15000], fmt: num(0), size: 8, margin: 4,
    tickLen: 2, line: true, lineWidth: 1.2, lineColor: '#222', name: 'Rank in Ordered Dataset', nameSize: 9.5, nameGap: 14})
];
var yAxes = [
  axis(0, -12, 254, {ticks: [0, 50, 100, 150, 200, 250], fmt: num(0), size: 11.5, color: '#333', margin: 2, tickLen: 2,
    name: '\u2212log10(pvalue)', nameSize: 10.5, nameGap: 21}),
  axis(1, -3320, 5720, {ticks: [-2000, 0, 2000, 4000], fmt: num(0), size: 18, margin: 8, tickLen: 5,
    name: 'ESTIMATEScore', nameSize: 19, nameGap: 50}),
  axis(2, -1435, 3853, {ticks: [-1000, 0, 1000, 2000, 3000], fmt: num(0), size: 18, margin: 8, tickLen: 5,
    name: 'ImmuneScore', nameSize: 17, nameGap: 53}),
  axis(3, -0.456, 0.642, {ticks: [-0.4, -0.2, 0, 0.2, 0.4, 0.6], fmt: num(1), size: 13, margin: 7, color: '#222', tickColor: '#666'}),
  axis(4, -2244, 2277, {ticks: [-2000, -1000, 0, 1000, 2000], fmt: num(0), size: 18, margin: 7, tickLen: 5,
    name: 'StromalScore', nameSize: 17, nameGap: 53}),
  axis(5, -0.43, 0.625, {ticks: [-0.4, -0.2, 0, 0.2, 0.4, 0.6], fmt: num(1), size: 13, margin: 7, color: '#222', tickColor: '#666'}),
  axis(6, 0.147, 1.0198, {ticks: [0.2, 0.4, 0.6, 0.8, 1.0], fmt: num(1), size: 18, margin: 7, tickLen: 5,
    name: 'TumorPurity', nameSize: 17, nameGap: 31}),
  axis(7, -0.617, 13.1, {ticks: [0, 4, 8, 12], fmt: num(0), size: 14, margin: 7, color: '#222', tickColor: '#666'}),
  axis(8, -0.074, 0.62, {ticks: [0, 0.2, 0.4, 0.6], fmt: num(1), size: 7, margin: 3, tickLen: 2, line: true,
    name: 'Running Enrichment Score', nameSize: 9.5, nameGap: 19}),
  axis(9, 0, 1, {line: true}),
  axis(10, -3.68, 2.4, {ticks: [-2, 0, 2], fmt: num(0), size: 7, margin: 3, tickLen: 2, line: true,
    name: 'Ranked List Metric', nameSize: 9.5, nameGap: 19}),
  axis(11, -0.573, 0.071, {ticks: [-0.4, -0.2, 0], fmt: num(1), size: 7, margin: 3, tickLen: 2, line: true,
    name: 'Running Enrichment Score', nameSize: 9.5, nameGap: 19}),
  axis(12, 0, 1, {line: true}),
  axis(13, -3.68, 2.4, {ticks: [-2, 0, 2], fmt: num(0), size: 7, margin: 3, tickLen: 2, line: true,
    name: 'Ranked List Metric', nameSize: 9.5, nameGap: 19})
];

// ================= series =================
var aLabel = {show: false, position: 'inside', fontSize: 8, color: '#000', fontFamily: FONT};
var series = [
  {type: 'scatter', name: 'pos', xAxisIndex: 0, yAxisIndex: 0, data: aItems(aPos), itemStyle: {color: RED, opacity: 1}, label: aLabel},
  {type: 'scatter', name: 'neg', xAxisIndex: 0, yAxisIndex: 0, data: aItems(aNeg), itemStyle: {color: BLUE, opacity: 1}, label: aLabel},
  {type: 'scatter', name: 'none', xAxisIndex: 0, yAxisIndex: 0, data: aItems(aNone), itemStyle: {color: '#BDBDBD', opacity: 1}, label: aLabel}
];
// two-group panels D, E, F, G
[[1, dLow, dHigh, dLowOut, dHighOut, 7], [2, eLow, eHigh, eLowOut, eHighOut, 7],
 [4, fLow, fHigh, fLowOut, fHighOut, 6], [6, gLow, gHigh, gLowOut, gHighOut, 6]].forEach(function (p) {
  series.push(boxSeries('Low', p[0], [p[1]], 0, 0.7, BLUE, 1.3));
  series.push(boxSeries('High', p[0], [p[2]], 1, 0.7, RED, 1.3));
  series.push(outlierSeries(p[0], [p[3]], 0, p[5]));
  series.push(outlierSeries(p[0], [p[4]], 1, p[5]));
});
// grouped panels B, C, H
[[3, bLow, bHigh, bLowOut, bHighOut, 6, 1.1], [5, cLow, cHigh, cLowOut, cHighOut, 6, 1.1],
 [7, hLow, hHigh, hLowOut, hHighOut, 4, 0.75]].forEach(function (p) {
  series.push(boxSeries('Low', p[0], p[1], -0.2, 0.36, BLUE, p[6]));
  series.push(boxSeries('High', p[0], p[2], 0.2, 0.36, RED, p[6]));
  series.push(outlierSeries(p[0], p[3], -0.2, p[5]));
  series.push(outlierSeries(p[0], p[4], 0.2, p[5]));
});
series.push(sigSeries(3, bSig, 0.6146, 15));
series.push(sigSeries(5, cSig, 0.5996, 15));
series.push(sigSeries(7, hSig, 12.6, 10));
// GSEA
[[8, iCurve, iHits, iBins], [11, jCurve, jHits, jBins]].forEach(function (p) {
  series.push({type: 'line', xAxisIndex: p[0], yAxisIndex: p[0], data: p[1], symbol: 'none', silent: true,
    lineStyle: {color: '#F01C1C', width: 1.5}});
  series.push(hitSeries(p[0] + 1, p[2]));
  series.push(binSeries(p[0] + 1, p[3]));
  series.push({type: 'line', xAxisIndex: p[0] + 2, yAxisIndex: p[0] + 2, data: rankMetric, symbol: 'none', silent: true,
    lineStyle: {color: '#BEBEBE', width: 0.6}, areaStyle: {color: '#BEBEBE', opacity: 1}});
});

// ================= legends =================
var legends = [
  {data: ['pos', 'neg', 'none'], left: 395, top: 145, orient: 'vertical', padding: 0, icon: 'circle',
    itemWidth: 6, itemHeight: 6, itemGap: 3, selectedMode: false,
    textStyle: {fontSize: 9, lineHeight: 12, color: '#000', fontFamily: FONT, padding: [0, 0, 0, 4]}},
  boxLegend(400, 511, 30, 33, 15.5, 11, 7),
  boxLegend(397, 1063, 31, 34, 17, 11, 7),
  boxLegend(732, 23, 22, 21, 18, 9, 4),
  boxLegend(1273, 23, 22, 21, 18, 9, 4),
  boxLegend(1273, 506, 22, 21, 18, 9, 4),
  boxLegend(1264, 1056, 22, 21, 18, 9, 4),
  boxLegend(720, 1633, 20, 20, 14, 10, 4)
];

// ================= annotations =================
var graphics = [];
function text(x, y, s, o) {
  o = o || {};
  graphics.push({type: 'text', x: x, y: y, silent: true, z: 100, style: {text: s, fontFamily: FONT,
    fontSize: o.size || 12, fontWeight: o.weight || 'normal', fill: o.color || '#000',
    align: o.align || 'left', verticalAlign: 'middle'}});
}
[['A', 1, 15], ['D', 556, 15], ['E', 1100, 16.7], ['B', 2, 516], ['F', 1099, 516], ['C', 2, 1068],
 ['G', 1095, 1068.5], ['H', 2, 1631]].forEach(function (l) { text(l[1], l[2], l[0], {size: 25, weight: 'bold'}); });
text(8, 2074, 'I', {size: 30, weight: 'bold'});
text(911, 2074, 'J', {size: 30, weight: 'bold'});
text(621, 76, 'Wilcoxon, p = 0.2', {size: 18.5});
text(1165, 75, 'Wilcoxon, p = 1e\u221207', {size: 18.5});
text(1163, 558, 'Wilcoxon, p = 9.9e\u221206', {size: 18.5});
text(1143, 1108, 'Wilcoxon, p = 0.2', {size: 18.5});
// size key of panel A
text(391, 213, '|correlation|', {size: 10});
aSizeKeys.forEach(function (v, i) {
  var cy = [230, 246, 261, 277][i];
  graphics.push({type: 'circle', silent: true, shape: {cx: 398, cy: cy, r: (4.5 + 9.5 * v) / 2}, style: {fill: '#000'}});
  text(410, cy, v.toFixed(1), {size: 9});
});
// GSEA titles and p-value tables
function gseaTable(titleRight, title, vals, cells) {
  text(titleRight, 2130, title, {size: 10.5, color: '#FF0000', align: 'right'});
  var w1 = cells[0][1] - cells[0][0], w2 = cells[1][1] - cells[1][0];
  [[cells[0][0], w1], [cells[1][0], w2]].forEach(function (c, k) {
    graphics.push({type: 'rect', silent: true, shape: {x: c[0], y: 2120, width: c[1], height: 17.8}, style: {fill: '#C8C8C8'}});
    graphics.push({type: 'rect', silent: true, shape: {x: c[0], y: 2138.6, width: c[1], height: 15}, style: {fill: k ? '#DEDEDE' : '#EAEAEA'}});
  });
  text(cells[0][0] + w1 / 2, 2129, 'pvalue', {size: 9.5, weight: 'bold', align: 'center'});
  text(cells[1][0] + w2 / 2, 2129, 'p.adjust', {size: 9.5, weight: 'bold', align: 'center'});
  text(cells[0][0] + w1 / 2, 2146, vals[0], {size: 9.5, align: 'center'});
  text(cells[1][0] + w2 / 2, 2146, vals[1], {size: 9.5, align: 'center'});
}
gseaTable(524, 'KEGG_ANTIGEN_PROCESSING_AND_PRESENTATION', ['1.48e-06', '4.58e-05'], [[538, 581.5], [582.5, 631.5]]);
gseaTable(1413, 'KEGG_ECM_RECEPTOR_INTERACTION', ['0.0006', '0.0091'], [[1425, 1467], [1468, 1517.5]]);

chart.setOption({
  animation: false,
  backgroundColor: '#fff',
  textStyle: {fontFamily: FONT},
  grid: grids,
  xAxis: xAxes,
  yAxis: yAxes,
  legend: legends,
  series: series,
  graphic: graphics
});

// leader segments of panel A, placed with the chart's own scale
aPos.concat(aNeg).forEach(function (p) {
  var l = aLeader[p[2]];
  if (!l) return;
  var c = chart.convertToPixel({gridIndex: 0}, [p[0], p[1]]);
  graphics.push({type: 'line', silent: true, z: 100, shape: {x1: c[0], y1: c[1], x2: c[0] + l[0], y2: c[1] + l[1]},
    style: {stroke: '#000', lineWidth: 0.9}});
});
chart.setOption({graphic: graphics});
</script>
</body>
</html>
